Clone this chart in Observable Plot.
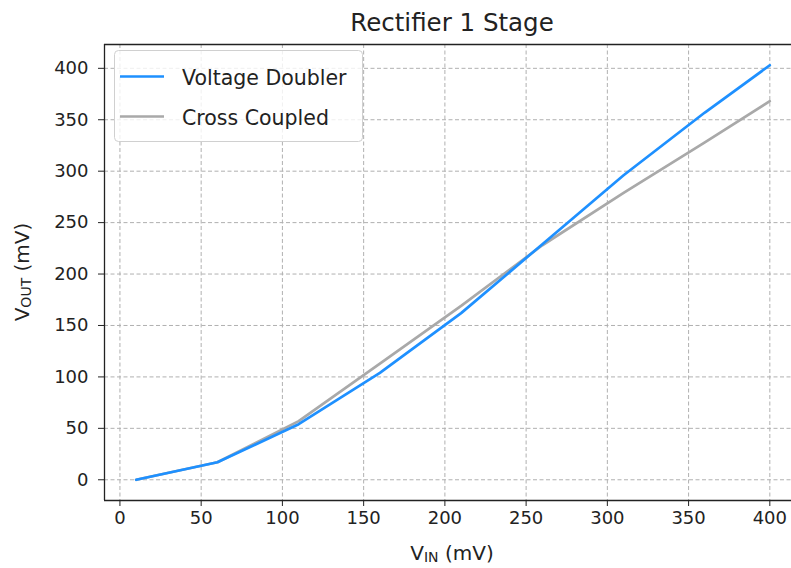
<!DOCTYPE html>
<html>
<head>
<meta charset="utf-8">
<script src="https://cdn.jsdelivr.net/npm/d3@7"></script>
<script src="https://cdn.jsdelivr.net/npm/@observablehq/plot@0.6"></script>
<style>
  html, body { margin: 0; padding: 0; background: white; overflow: hidden; }
  #chart svg { font-family: "DejaVu Sans", sans-serif; }
</style>
</head>
<body>
<div id="chart"></div>
<script>
// ---- data ----
const vIn = [10, 60, 110, 160, 210, 260, 310, 360, 400];
const voltageDoubler = [0, 17, 54, 104, 162, 229, 296, 357, 403];
const crossCoupled = [0, 17, 57, 113, 169, 228, 279, 328, 368];
const seriesNames = ["Voltage Doubler", "Cross Coupled"];
const seriesColors = ["#1E90FF", "#A9A9A9"];
const xTicks = [0, 50, 100, 150, 200, 250, 300, 350, 400];
const yTicks = [0, 50, 100, 150, 200, 250, 300, 350, 400];
const titleText = "Rectifier 1 Stage";

const xDomain = [-9.5, 419.5];
const yDomain = [-20.15, 423.15];

const rows = [];
vIn.forEach((x, i) => {
  rows.push({x, y: voltageDoubler[i], series: seriesNames[0]});
  rows.push({x, y: crossCoupled[i], series: seriesNames[1]});
});

const W = 791, H = 568;
const mL = 104, mT = 44, mB = 68;

const chart = Plot.plot({
  width: W,
  height: H,
  marginLeft: mL,
  marginRight: 0,
  marginTop: mT,
  marginBottom: mB,
  style: {fontSize: "18px", color: "#222", background: "white", overflow: "hidden"},
  x: {domain: xDomain, range: [mL, 801], ticks: xTicks, tickSize: 6, tickPadding: 5, label: null},
  y: {domain: yDomain, ticks: yTicks, tickSize: 6, tickPadding: 10, label: null},
  marks: [
    Plot.ruleX(xTicks, {stroke: "#b0b0b0", strokeWidth: 1, strokeDasharray: "4,2.5"}),
    Plot.ruleY(yTicks, {stroke: "#b0b0b0", strokeWidth: 1, strokeDasharray: "4,2.5"}),
    Plot.line(rows.filter(d => d.series === seriesNames[1]), {x: "x", y: "y", stroke: seriesColors[1], strokeWidth: 2.7}),
    Plot.line(rows.filter(d => d.series === seriesNames[0]), {x: "x", y: "y", stroke: seriesColors[0], strokeWidth: 2.7}),
    Plot.ruleX([xDomain[0]], {stroke: "#222", strokeWidth: 1.3}),
    Plot.ruleY(yDomain, {stroke: "#222", strokeWidth: 1.3})
  ]
});

document.getElementById("chart").appendChild(chart);

const svg = d3.select(chart);

// title
svg.append("text")
  .attr("x", 452).attr("y", 31)
  .attr("text-anchor", "middle")
  .attr("font-size", 24.5)
  .attr("fill", "#222")
  .text(titleText);

// x label
const xl = svg.append("text")
  .attr("x", 452).attr("y", 560)
  .attr("text-anchor", "middle")
  .attr("font-size", 20)
  .attr("fill", "#222");
xl.append("tspan").text("V");
xl.append("tspan").attr("font-size", 14).attr("dy", 2).text("IN");
xl.append("tspan").attr("dy", -2).text(" (mV)");

// y label
const yl = svg.append("text")
  .attr("transform", "translate(29,272) rotate(-90)")
  .attr("text-anchor", "middle")
  .attr("font-size", 20)
  .attr("fill", "#222");
yl.append("tspan").text("V");
yl.append("tspan").attr("font-size", 14).attr("dy", 2).text("OUT");
yl.append("tspan").attr("dy", -2).text(" (mV)");

// legend
const lg = svg.append("g");
lg.append("rect")
  .attr("x", 114.5).attr("y", 50.5).attr("width", 248).attr("height", 91)
  .attr("rx", 4)
  .attr("fill", "white").attr("fill-opacity", 0.8)
  .attr("stroke", "#d0d0d0").attr("stroke-width", 1);
const legendY = [76.5, 116.5];
seriesNames.forEach((name, i) => {
  lg.append("line")
    .attr("x1", 120).attr("x2", 164)
    .attr("y1", legendY[i]).attr("y2", legendY[i])
    .attr("stroke", seriesColors[i]).attr("stroke-width", 2.7);
  lg.append("text")
    .attr("x", 182).attr("y", legendY[i] + 8)
    .attr("text-anchor", "start")
    .attr("font-size", 20.5)
    .attr("fill", "#222")
    .text(name);
});
</script>
</body>
</html>
